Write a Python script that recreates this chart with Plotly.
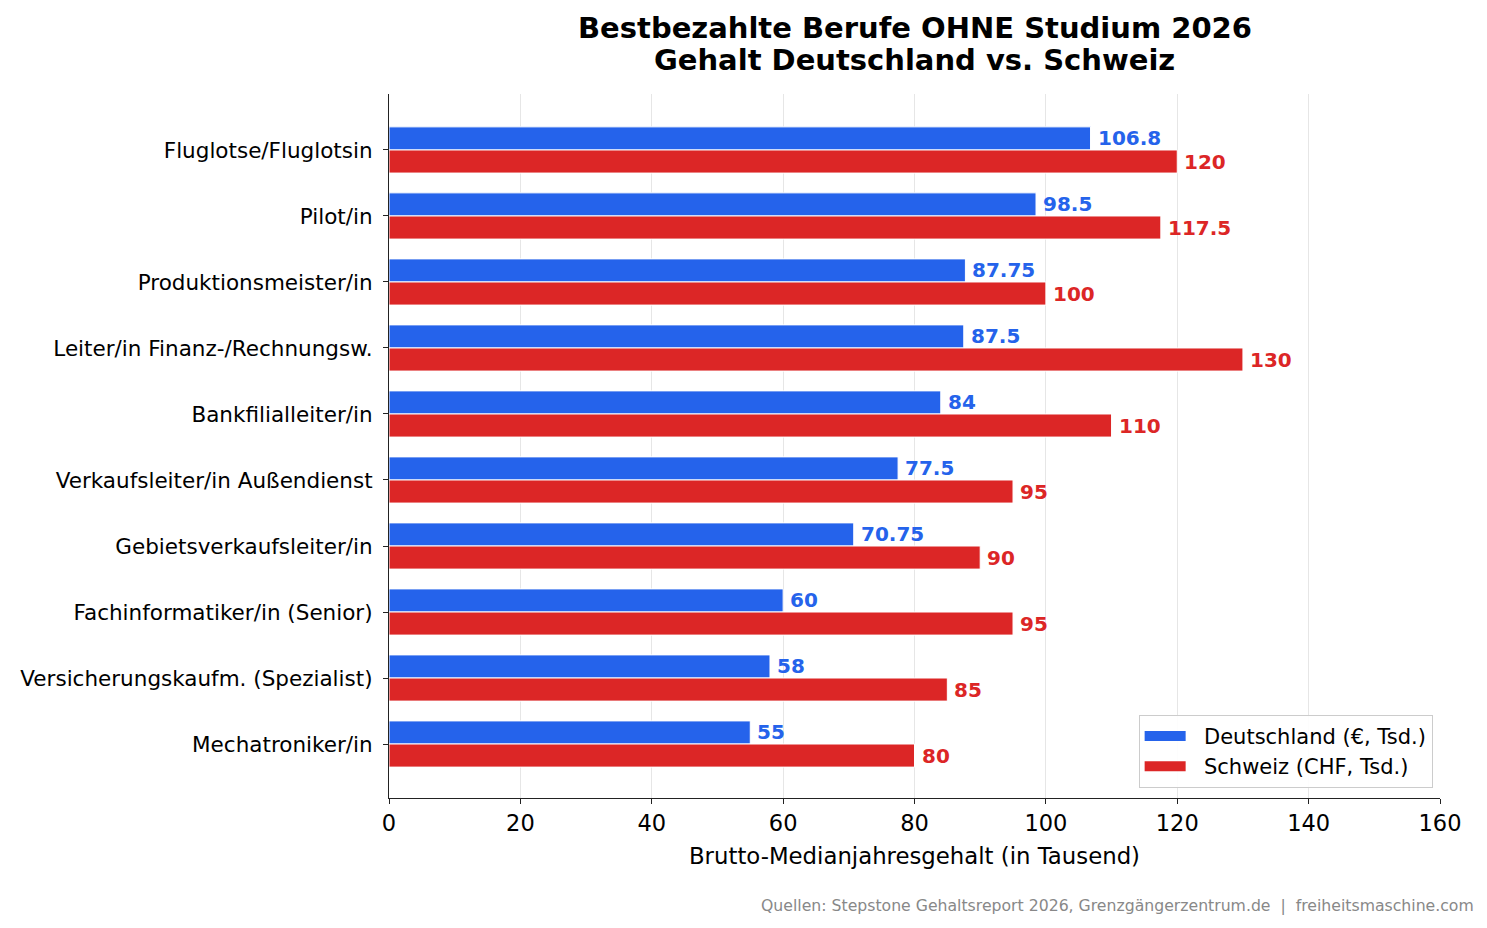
import plotly.graph_objects as go

berufe = [
    "Fluglotse/Fluglotsin",
    "Pilot/in",
    "Produktionsmeister/in",
    "Leiter/in Finanz-/Rechnungsw.",
    "Bankfilialleiter/in",
    "Verkaufsleiter/in Außendienst",
    "Gebietsverkaufsleiter/in",
    "Fachinformatiker/in (Senior)",
    "Versicherungskaufm. (Spezialist)",
    "Mechatroniker/in",
]
deutschland = [106.8, 98.5, 87.75, 87.5, 84, 77.5, 70.75, 60, 58, 55]
schweiz = [120, 117.5, 100, 130, 110, 95, 90, 95, 85, 80]
x_ticks = [0, 20, 40, 60, 80, 100, 120, 140, 160]
title_lines = ["Bestbezahlte Berufe OHNE Studium 2026", "Gehalt Deutschland vs. Schweiz"]
series_names = ["Deutschland (€, Tsd.)", "Schweiz (CHF, Tsd.)"]

BLUE = "#2563EB"
RED = "#DC2626"
FONT = "DejaVu Sans"
H = 0.35

idx = list(range(len(berufe)))
fig = go.Figure()
fig.add_trace(go.Bar(
    y=[i - H / 2 for i in idx], x=deutschland, orientation="h", width=H, showlegend=False,
    name=series_names[0], marker=dict(color=BLUE, line=dict(color="white", width=1)),
))
fig.add_trace(go.Bar(
    y=[i + H / 2 for i in idx], x=schweiz, orientation="h", width=H, showlegend=False,
    name=series_names[1], marker=dict(color=RED, line=dict(color="white", width=1)),
))
# legend proxies (wide rectangular swatches)
for name, col in zip(series_names, (BLUE, RED)):
    fig.add_trace(go.Scatter(x=[None], y=[None], mode="lines", name="\u00a0\u00a0" + name,
                             line=dict(color=col, width=14)))

for i in idx:
    for val, off, col in ((deutschland[i], -H / 2, BLUE), (schweiz[i], H / 2, RED)):
        fig.add_annotation(
            x=val, y=i + off, text=f"<b>{val:g}</b>", showarrow=False,
            xanchor="left", yanchor="middle", xshift=5,
            font=dict(family=FONT, size=20, color=col),
        )

for line, ypos in zip(title_lines, (1.0938, 1.0483)):
    fig.add_annotation(
        text=f"<b>{line}</b>",
        xref="paper", yref="paper", x=0.5, y=ypos, xanchor="center", yanchor="middle",
        showarrow=False, font=dict(family=FONT, size=29, color="black"),
    )

fig.add_annotation(
    text="Quellen: Stepstone Gehaltsreport 2026, Grenzgängerzentrum.de  |  freiheitsmaschine.com",
    xref="paper", yref="paper", x=1.034, y=-0.152, xanchor="right", yanchor="middle",
    showarrow=False, font=dict(family=FONT, size=15.7, color="#888888"),
)

fig.update_layout(
    width=1487, height=928,
    paper_bgcolor="white", plot_bgcolor="white",
    margin=dict(l=389, r=47, t=94, b=130),
    barmode="overlay",
    font=dict(family=FONT, size=21, color="black"),
    xaxis=dict(
        range=[0, 160], tickvals=x_ticks, ticks="outside", ticklen=5, tickcolor="#222",
        showline=True, linecolor="#222", linewidth=1.2, mirror=False,
        showgrid=True, gridcolor="#e6e6e6", gridwidth=1, zeroline=False,
        tickfont=dict(size=22.5),
        title=dict(text="Brutto-Medianjahresgehalt (in Tausend)", font=dict(size=22.8), standoff=12),
    ),
    yaxis=dict(
        range=[9.818, -0.848], tickvals=idx, ticktext=berufe,
        ticks="outside", ticklen=5, tickcolor="#222", ticklabelstandoff=6,
        showline=True, linecolor="#222", linewidth=1.2,
        showgrid=False, zeroline=False, tickfont=dict(size=21.5),
    ),
    legend=dict(
        x=0.993, y=0.0145, xanchor="right", yanchor="bottom",
        bordercolor="#cccccc", borderwidth=1, bgcolor="rgba(255,255,255,0.9)",
        font=dict(family=FONT, size=21), itemwidth=41,
    ),
    showlegend=True,
)

fig.write_html("out.html")
